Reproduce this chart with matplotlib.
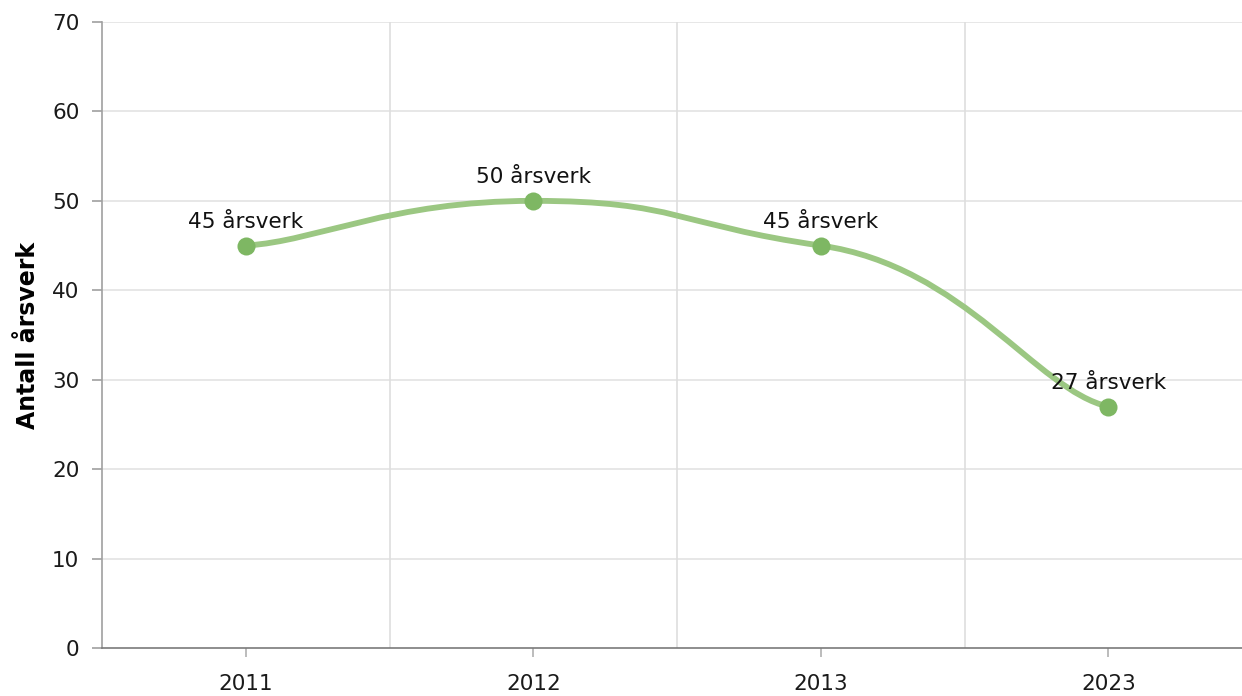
import numpy as np
import matplotlib
matplotlib.use("Agg")
import matplotlib.pyplot as plt
from matplotlib.path import Path
from matplotlib.patches import PathPatch

categories = ["2011", "2012", "2013", "2023"]
values = [45, 50, 45, 27]
labels = ["45 årsverk", "50 årsverk", "45 årsverk", "27 årsverk"]
y_ticks = [0, 10, 20, 30, 40, 50, 60, 70]

plt.rcParams['font.family'] = ['DejaVu Sans']

W, H = 1242, 696
fig = plt.figure(figsize=(W / 100, H / 100), dpi=100)
ax_left, ax_right, ax_top, ax_bottom = 102.3, 1252.0, 22.0, 648.0
ax = fig.add_axes([ax_left / W, (H - ax_bottom) / H,
                   (ax_right - ax_left) / W, (ax_bottom - ax_top) / H])

xs = np.arange(len(categories), dtype=float)
ys = np.array(values, dtype=float)


def tension_path(xs, ys, ax_t=0.25, ay_t=0.10):
    """Smoothed line through the points (tension-style cubic Bezier)."""
    n = len(xs)
    pts = list(zip(xs, ys))
    verts = [pts[0]]
    codes = [Path.MOVETO]
    for i in range(n - 1):
        p0 = pts[i - 1] if i > 0 else pts[i]
        p1 = pts[i]
        p2 = pts[i + 1]
        p3 = pts[i + 2] if i + 2 < n else pts[i + 1]
        ca = (p1[0] + ax_t * (p2[0] - p0[0]), p1[1] + ay_t * (p2[1] - p0[1]))
        cb = (p2[0] - ax_t * (p3[0] - p1[0]), p2[1] - ay_t * (p3[1] - p1[1]))
        verts += [ca, cb, p2]
        codes += [Path.CURVE4] * 3
    return Path(verts, codes)


ax.add_patch(PathPatch(tension_path(xs, ys), facecolor='none', edgecolor='#9bc782',
                       linewidth=4.2, capstyle='round', zorder=3))
ax.plot(xs, ys, linestyle='none', marker='o', markersize=13,
        color='#7eb763', markeredgewidth=0, zorder=4)

for x, y, lab in zip(xs, ys, labels):
    ax.annotate(lab, (x, y), xytext=(0, 12.5), textcoords='offset points',
                ha='center', va='baseline', fontsize=15.5, color='#111111', zorder=5)

ax.set_xlim(-0.5, len(categories) - 0.5)
ax.set_ylim(0, 70)
ax.set_yticks(y_ticks)
ax.set_yticklabels([str(t) for t in y_ticks], fontsize=15.5)
ax.set_xticks(xs)
ax.set_xticklabels(categories, fontsize=15.5)

ax.grid(False)
for t in y_ticks[1:]:
    ax.axhline(t, color='#e3e3e3', linewidth=1.2, zorder=0)
for b in np.arange(0.5, len(categories) - 0.5, 1.0):
    ax.axvline(b, color='#dedede', linewidth=1.2, zorder=0)

for side in ['top', 'right']:
    ax.spines[side].set_visible(False)
ax.spines['left'].set_color('#a0a0a0')
ax.spines['bottom'].set_color('#7a7a7a')
ax.spines['left'].set_linewidth(1.2)
ax.spines['bottom'].set_linewidth(1.2)

ax.tick_params(axis='y', length=7.5, width=1.2, color='#a0a0a0', pad=9, labelcolor='#1a1a1a')
ax.tick_params(axis='x', length=6.5, width=1.2, color='#b0b0b0', pad=12.5, labelcolor='#1a1a1a')

ax.set_ylabel('Antall årsverk', fontsize=17, fontweight='bold', color='#000000')
ax.yaxis.set_label_coords(-(ax_left - 40) / (ax_right - ax_left), 0.5)

fig.savefig('out.png', dpi=100, facecolor='white')
